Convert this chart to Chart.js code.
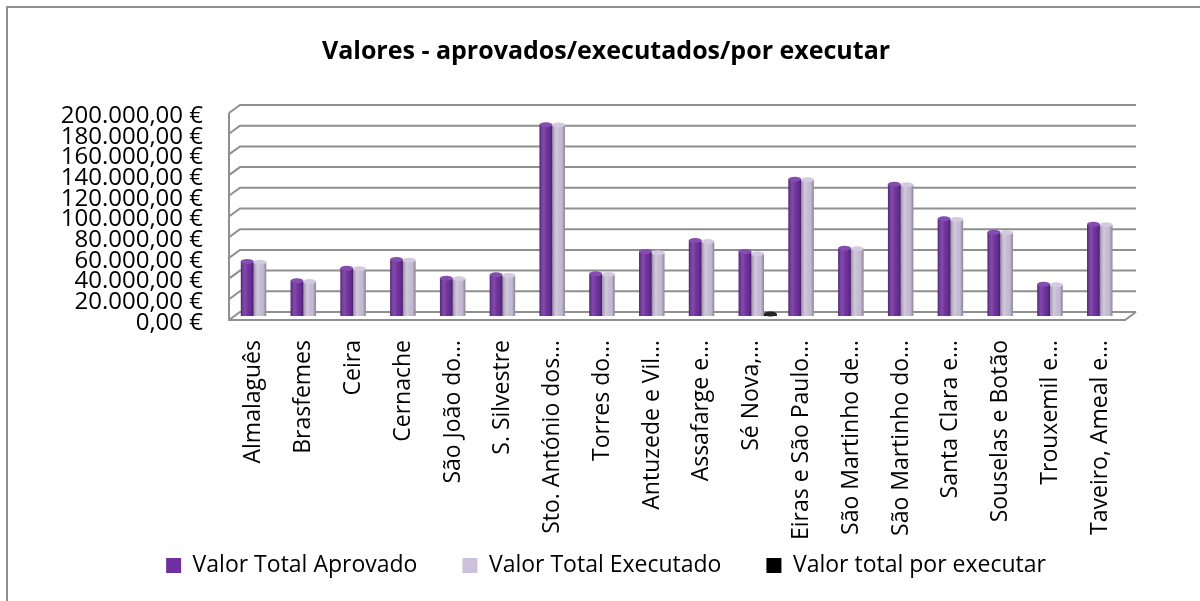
<!DOCTYPE html>
<html>
<head>
<meta charset="utf-8">
<script src="https://cdn.jsdelivr.net/npm/chart.js@4/dist/chart.umd.min.js"></script>
<style>
  html, body { margin: 0; padding: 0; background: #fff; overflow: hidden; }
  #wrap { position: relative; width: 1200px; height: 601px; }
  #frame { position: absolute; left: 6px; top: 6px; width: 1300px; height: 700px; border: 2px solid #8f8f8f; box-sizing: border-box; }
  canvas { position: absolute; left: 0; top: 0; }
</style>
</head>
<body>
<div id="wrap">
  <div id="frame"></div>
  <canvas id="chart" width="1200" height="601"></canvas>
</div>
<script>
// freguesias
const categories = [
    'Almalaguês', 'Brasfemes', 'Ceira', 'Cernache', 'São João do…', 'S. Silvestre',
    'Sto. António dos…', 'Torres do…', 'Antuzede e Vil…', 'Assafarge e…', 'Sé Nova,…',
    'Eiras e São Paulo…', 'São Martinho de…', 'São Martinho do…', 'Santa Clara e…',
    'Souselas e Botão', 'Trouxemil e…', 'Taveiro, Ameal e…'
];

const valorAprovado = [52700, 34000, 46200, 54600, 36500, 39800, 184700, 40800, 62300, 72900,
    62300, 132200, 65500, 127300, 93900, 81000, 30700, 88700];
const valorExecutado = [52000, 33300, 45600, 53900, 35900, 39100, 184500, 40100, 61100, 72000,
    60100, 131600, 64900, 126800, 93300, 80400, 30100, 88100];
const valorPorExecutar = [0, 0, 0, 0, 0, 0, 0, 0, 0, 0, 2000, 0, 0, 0, 0, 0, 0, 0];

const yTicks = [0, 20000, 40000, 60000, 80000, 100000, 120000, 140000, 160000, 180000, 200000];

function euro(v) {
    const int = Math.floor(v).toString().replace(/\B(?=(\d{3})+(?!\d))/g, '.');
    return int + ',00 €';
}

// 3D-ish walls: front plane is offset from the bars, back wall further behind
const DX = 6, DY = 4, DEPTH_X = 11, DEPTH_Y = 8;
const X_FONT = 23;

const walls3d = {
    id: 'walls3d',
    beforeDatasetsDraw(chart) {
        const ctx = chart.ctx;
        const y = chart.scales.y;
        const left = chart.chartArea.left - DX;
        const right = chart.chartArea.right - DX;
        ctx.save();
        ctx.strokeStyle = '#8f8f8f';
        ctx.lineWidth = 2;
        ctx.beginPath();
        yTicks.forEach(v => {
            const yf = y.getPixelForValue(v) + DY;
            const yb = yf - DEPTH_Y;
            ctx.moveTo(left, yf);
            ctx.lineTo(left + DEPTH_X, yb);
            ctx.lineTo(right + DEPTH_X, yb);
        });
        const top = y.getPixelForValue(yTicks[yTicks.length - 1]) + DY;
        const bottom = y.getPixelForValue(0) + DY;
        ctx.moveTo(left, top);
        ctx.lineTo(left, bottom);
        ctx.lineTo(right, bottom);
        ctx.lineTo(right + DEPTH_X, bottom - DEPTH_Y);
        ctx.stroke();
        ctx.restore();
    }
};

const cylinderShade = {
    id: 'cylinderShade',
    afterDatasetsDraw(chart) {
        const ctx = chart.ctx;
        chart.data.datasets.forEach((ds, i) => {
            const meta = chart.getDatasetMeta(i);
            meta.data.forEach((bar, j) => {
                if (!ds.data[j]) return;
                const {x, y, base, width} = bar.getProps(['x', 'y', 'base', 'width'], true);
                const l = x - width / 2;
                ctx.save();
                const g = ctx.createLinearGradient(l, 0, l + width, 0);
                g.addColorStop(0, 'rgba(0,0,0,0.28)');
                g.addColorStop(0.35, 'rgba(255,255,255,0.12)');
                g.addColorStop(0.75, 'rgba(0,0,0,0.04)');
                g.addColorStop(1, 'rgba(0,0,0,0.32)');
                ctx.fillStyle = g;
                ctx.fillRect(l, y, width, base - y);
                ctx.beginPath();
                ctx.ellipse(x, y, width / 2, 2.5, 0, 0, Math.PI * 2);
                ctx.fillStyle = ds.backgroundColor;
                ctx.fill();
                ctx.fillStyle = 'rgba(255,255,255,0.15)';
                ctx.fill();
                ctx.restore();
            });
        });
    }
};

const ctx = document.getElementById('chart').getContext('2d');
window.valoresChart = new Chart(ctx, {
    type: 'bar',
    data: {
        labels: categories,
        datasets: [{
            label: 'Valor Total Aprovado',
            data: valorAprovado,
            backgroundColor: '#7030A0'
        }, {
            label: 'Valor Total Executado',
            data: valorExecutado,
            backgroundColor: '#CCC1DA'
        }, {
            label: 'Valor total por executar',
            data: valorPorExecutar,
            backgroundColor: '#000000'
        }]
    },
    options: {
        responsive: false,
        animation: false,
        categoryPercentage: 0.766,
        barPercentage: 1,
        layout: {
            padding: { left: 12, right: 0, top: 0, bottom: 14 }
        },
        scales: {
            x: {
                grid: { display: false },
                border: { display: false },
                ticks: {
                    autoSkip: false,
                    maxRotation: 90,
                    minRotation: 90,
                    // mirror keeps the long labels from being clipped at the axis box;
                    // negative padding + offset put them back below the floor
                    mirror: true,
                    padding: -24,
                    labelOffset: -DX + X_FONT * 1.2,
                    color: '#000',
                    font: { family: 'Open Sans', size: X_FONT }
                },
                afterFit(scale) { scale.height = 193; }
            },
            y: {
                min: 0,
                max: 200000,
                grid: { display: false, drawTicks: false },
                border: { display: false },
                ticks: {
                    stepSize: 20000,
                    autoSkip: false,
                    padding: 32,
                    labelOffset: 7,
                    color: '#000',
                    font: { family: 'Open Sans', size: 24 },
                    callback: v => euro(v)
                },
                afterFit(scale) { scale.width = 223; }
            },
            // empty axis that only reserves the space right of the plot
            spacer: {
                type: 'linear',
                position: 'right',
                grid: { display: false },
                border: { display: false },
                ticks: { display: false },
                afterFit(scale) { scale.width = 69; }
            }
        },
        plugins: {
            title: {
                display: true,
                text: 'Valores - aprovados/executados/por executar',
                color: '#000',
                font: { family: 'Open Sans', size: 25, weight: 'bold' },
                padding: { top: 37, bottom: 42 }
            },
            legend: {
                position: 'bottom',
                labels: {
                    boxWidth: 15,
                    boxHeight: 15,
                    padding: 45,
                    color: '#000',
                    font: { family: 'Open Sans', size: 23 }
                }
            },
            tooltip: { enabled: false }
        }
    },
    plugins: [walls3d, cylinderShade]
});
</script>
</body>
</html>
